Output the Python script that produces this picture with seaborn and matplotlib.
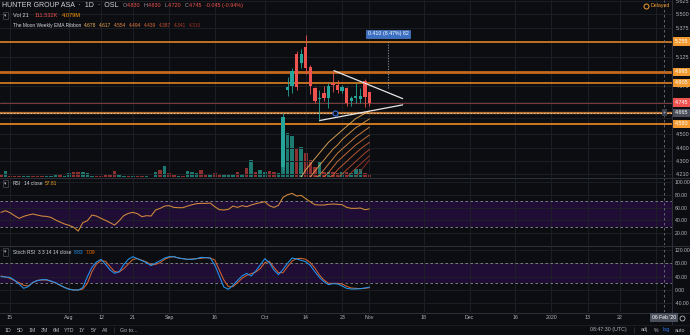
import numpy as np
import pandas as pd
import matplotlib
matplotlib.use("Agg")
import matplotlib.pyplot as plt
import seaborn as sns
from matplotlib.lines import Line2D
from matplotlib.transforms import blended_transform_factory as blend
from matplotlib.ticker import FixedLocator, NullLocator, FixedFormatter, NullFormatter

# ---------------------------------------------------------------- data
first_bar = -2          # bar index of first value (bar 0 = 15 Jul 2019, trading days)
candle_first_bar = 60   # 7 Oct 2019

rsi_values = [52.4, 55.0, 51.9, 47.2, 43.0, 46.1, 48.2, 49.8, 48.2, 46.6,
              46.1, 44.5, 40.4, 37.2, 34.1, 32.0, 28.9, 23.1, 36.2, 39.3,
              48.2, 46.6, 43.0, 39.8, 36.2, 32.5, 39.3, 47.2, 50.8, 52.4,
              50.3, 45.6, 47.2, 46.6, 56.1, 58.7, 62.3, 62.9, 60.2, 59.7,
              59.7, 62.3, 64.4, 66.0, 66.5, 66.5, 67.0, 61.3, 56.6, 56.1,
              57.1, 62.3, 60.2, 62.9, 61.3, 63.9, 66.0, 67.6, 69.1, 62.9,
              60.2, 63.4, 75.9, 80.1, 82.2, 78.0, 79.1, 73.8, 69.1, 64.4,
              63.9, 63.9, 65.0, 65.5, 65.0, 64.4, 60.2, 58.7, 58.7, 59.2,
              56.6, 57.81]

stoch_k = [40, 39, 38, 29, 18, 5, 10, 23, 28, 31,
           31, 27, 22, 15, 7, 2, 0, 0, 7, 40,
           68, 84, 92, 77, 60, 50, 55, 76, 92, 100,
           94, 88, 82, 73, 81, 88, 96, 100, 100, 96,
           94, 92, 92, 94, 98, 97, 96, 75, 42, 9,
           2, 14, 29, 42, 50, 42, 57, 75, 94, 82,
           60, 46, 62, 80, 96, 93, 89, 85, 74, 55,
           38, 25, 16, 19, 18, 12, 5, 3, 3, 4,
           6, 8.83]

stoch_d = [42, 39, 35, 28, 22, 14, 12, 22, 29, 30,
           30, 26, 21, 14, 8, 3, 0, 0, 3, 20,
           55, 78, 88, 86, 70, 55, 54, 64, 78, 92,
           94, 89, 84, 76, 77, 82, 92, 98, 100, 96,
           94, 92, 93, 94, 95, 97, 96, 90, 60, 30,
           10, 10, 22, 35, 44, 49, 54, 64, 82, 86,
           68, 52, 52, 70, 87, 94, 95, 92, 82, 66,
           45, 30, 20, 20, 20, 18, 11, 6, 5, 4,
           5, 7.09]

volume_k = [210, 390, 70, 80, 50, 60, 60, 70, 80, 80,
            40, 60, 150, 210, 60, 260, 300, 300, 340, 230,
            90, 40, 60, 210, 130, 390, 110, 90, 70, 40,
            70, 80, 40, 30, 340, 430, 700, 260, 110, 40,
            80, 370, 330, 240, 430, 120, 120, 260, 190, 120,
            110, 170, 340, 170, 600, 1100, 300, 480, 300, 390,
            340, 260, 3850, 2900, 2700, 1900, 1950, 1560, 1100, 650,
            980, 330, 330, 330, 260, 330, 330, 260, 490, 490,
            260, 112]

# direction of the bars before the visible candles (1 = up, 0 = down)
pre_volume_up = [0, 1, 0, 0, 0, 1, 1, 0, 0, 0,
                 1, 1, 1, 0, 1, 1, 0, 0, 1, 1,
                 1, 0, 0, 0, 0, 0, 1, 1, 0, 1,
                 0, 0, 1, 1, 1, 0, 1, 0, 0, 1,
                 0, 1, 1, 1, 0, 0, 1, 0, 0, 1,
                 1, 1, 0, 1, 0, 1, 0, 1, 1, 0,
                 0, 1]

candle_open = [4.26, 4.85, 4.88, 5.15, 5.07, 5.21, 5.04, 4.86, 4.77, 4.82,
               4.78, 4.90, 4.89, 4.84, 4.86, 4.76, 4.78, 4.77, 4.92, 4.83]
candle_high = [4.66, 4.95, 5.03, 5.17, 5.19, 5.31, 5.05, 4.87, 4.85, 4.88,
               4.90, 5.00, 4.93, 4.89, 4.87, 4.80, 4.90, 4.86, 4.94, 4.83]
candle_low = [4.24, 4.80, 4.82, 4.85, 5.03, 4.98, 4.81, 4.74, 4.60, 4.76,
              4.70, 4.83, 4.82, 4.82, 4.72, 4.72, 4.74, 4.74, 4.71, 4.72]
candle_close = [4.63, 4.87, 5.00, 4.87, 5.15, 5.03, 4.88, 4.76, 4.785, 4.78,
                4.88, 4.89, 4.85, 4.87, 4.74, 4.78, 4.80, 4.80, 4.79, 4.745]

# "The Moon Weekly EMA Ribbon" (bars 60..79)
ema_1 = [4.10, 4.12, 4.15, 4.17, 4.19, 4.24, 4.28, 4.32, 4.36, 4.40,
         4.44, 4.47, 4.50, 4.53, 4.56, 4.59, 4.62, 4.64, 4.66, 4.678]
ema_2 = [4.08, 4.10, 4.12, 4.14, 4.16, 4.175, 4.19, 4.23, 4.27, 4.31,
         4.35, 4.39, 4.42, 4.46, 4.49, 4.52, 4.55, 4.57, 4.595, 4.617]
ema_3 = [4.06, 4.08, 4.10, 4.12, 4.14, 4.155, 4.17, 4.185, 4.20, 4.24,
         4.28, 4.32, 4.36, 4.39, 4.42, 4.45, 4.48, 4.505, 4.53, 4.554]
ema_4 = [4.04, 4.06, 4.08, 4.10, 4.12, 4.13, 4.145, 4.16, 4.175, 4.19,
         4.22, 4.26, 4.30, 4.33, 4.36, 4.39, 4.42, 4.445, 4.47, 4.494]
ema_5 = [4.02, 4.04, 4.06, 4.08, 4.095, 4.11, 4.125, 4.14, 4.155, 4.17,
         4.185, 4.20, 4.24, 4.27, 4.30, 4.33, 4.36, 4.39, 4.415, 4.439]
ema_6 = [4.00, 4.02, 4.04, 4.055, 4.07, 4.085, 4.10, 4.115, 4.13, 4.145,
         4.16, 4.175, 4.185, 4.21, 4.24, 4.27, 4.30, 4.33, 4.36, 4.387]
ema_7 = [3.98, 4.00, 4.02, 4.035, 4.05, 4.065, 4.08, 4.095, 4.11, 4.125,
         4.14, 4.15, 4.165, 4.175, 4.185, 4.22, 4.25, 4.28, 4.31, 4.341]
ema_8 = [3.96, 3.98, 4.00, 4.015, 4.03, 4.045, 4.06, 4.075, 4.09, 4.10,
         4.115, 4.13, 4.14, 4.155, 4.165, 4.175, 4.19, 4.23, 4.27, 4.310]
ribbon_colors = ['#f2b55c', '#eea24f', '#e88d47', '#e0783f',
                 '#d46338', '#c44f32', '#b03d2c', '#9a2f27']

# drawn levels / tools
level_prices = [5.255, 4.995, 4.905, 4.580]
level_labels = ['5.255', '4.995', '4.905', '4.580']
last_price = 4.745
alert_price = 4.665
tri_upper_bar = [71.2, 86.3]
tri_upper_price = [5.006, 4.777]
tri_lower_bar = [68.1, 86.3]
tri_lower_price = [4.605, 4.727]
measure_bar = 83.1
measure_prices = [4.86, 5.27]
measure_text = "0.410 (8.47%) 82"
alert_bar = 71.4
cursor_bar = 143.7

# axis ticks / labels (labels hidden behind price tags are left blank)
price_ticks = [5.625, 5.5, 5.375, 5.25, 5.125, 5.0, 4.875, 4.75, 4.625, 4.5, 4.4, 4.3, 4.21]
price_tick_labels = ['5.625', '5.500', '5.375', '', '5.125', '', '4.875', '', '',
                     '4.500', '4.400', '4.300', '4.210']
rsi_ticks = [100, 80, 60, 40, 20]
stoch_ticks = [120, 80, 40, 0, -40]
time_labels = ['15', 'Aug', '12', '21', 'Sep', '16', 'Oct', '14', '23', 'Nov',
               '18', 'Dec', '16', '2020', '13', '22', '']
time_label_bars = [0, 13, 20, 27, 35, 45, 56, 65, 73, 79, 91, 101, 111, 119, 127, 134, 142]

# ---------------------------------------------------------------- style
BG = '#0c0d10'
GRID = '#1d1f26'
SEP = '#2c2f38'
TXT = '#b2b5be'
WHITE = '#d1d4dc'
UP = '#26a69a'
DN = '#ef5350'
ORANGE = '#f08a24'

sns.set_theme(style='dark', rc={'axes.facecolor': BG, 'figure.facecolor': BG,
                                'grid.color': GRID, 'axes.edgecolor': SEP,
                                'text.color': WHITE, 'xtick.color': TXT, 'ytick.color': TXT})
plt.rcParams['font.family'] = ['Liberation Sans', 'DejaVu Sans']

W, H = 690, 335
fig = plt.figure(figsize=(W / 100, H / 100), dpi=100)
fig.patch.set_facecolor(BG)
RIGHT = 672


def rect(top, bottom):
    return [0, 1 - bottom / H, RIGHT / W, (bottom - top) / H]


ax_vol = fig.add_axes(rect(0, 177))
ax = fig.add_axes(rect(0, 177))
ax.set_facecolor('none')
ax_rsi = fig.add_axes(rect(178, 245))
ax_st = fig.add_axes(rect(246, 312))

XMIN, XMAX = -2.2, 145.5
for a in (ax_vol, ax, ax_rsi, ax_st):
    for s in a.spines.values():
        s.set_visible(False)
    a.tick_params(length=0)
ax_vol.set_xticks([])
ax_vol.set_yticks([])

# ---------------------------------------------------------------- volume
vol_bars = np.arange(first_bar, first_bar + len(volume_k))
up_flags = pre_volume_up + [int(c >= o) for o, c in zip(candle_open, candle_close)]
vol_df = pd.DataFrame({'bar': vol_bars, 'vol': volume_k, 'up': up_flags})
vol_colors = ['#1c7a71' if u else '#8e2f30' for u in vol_df['up']]
ax_vol.bar(vol_df['bar'], vol_df['vol'], width=0.78, color=vol_colors, linewidth=0)
ax_vol.set_xlim(XMIN, XMAX)
ax_vol.set_ylim(0, max(volume_k) * 177 / 59)

# ---------------------------------------------------------------- price pane
ax.set_yscale('log')
for a in (ax, ax_rsi, ax_st):
    a.xaxis.set_major_locator(FixedLocator(time_label_bars))
    a.grid(True, axis='x', color=GRID, lw=0.7)

ribbon_bars = np.arange(candle_first_bar, candle_first_bar + len(ema_1))
for vals, col in zip([ema_1, ema_2, ema_3, ema_4, ema_5, ema_6, ema_7, ema_8], ribbon_colors):
    sns.lineplot(x=ribbon_bars, y=vals, ax=ax, color=col, linewidth=0.7, alpha=0.85,
                 legend=False, zorder=3)

# horizontal levels
ax.axhline(level_prices[0], color=ORANGE, lw=1.1, zorder=2)
ax.axhline(level_prices[1], color='#c4681d', lw=2.0, zorder=2)
ax.axhline(level_prices[2], color=ORANGE, lw=1.1, zorder=2)
ax.axhline(level_prices[3], color=ORANGE, lw=1.2, zorder=2)
ax.axhline(last_price, color='#7d3b3b', lw=0.7, zorder=2)
ax.axhline(alert_price, color='#b8702e', lw=1.6, zorder=2)
ax.axhline(alert_price, color='#e6cfae', lw=0.6, ls=(0, (2, 2)), zorder=2)

# candles
cb = np.arange(candle_first_bar, candle_first_bar + len(candle_open))
o = np.array(candle_open); c = np.array(candle_close)
ccols = [UP if cc >= oo else DN for oo, cc in zip(o, c)]
ax.vlines(cb, candle_low, candle_high, colors=ccols, lw=0.6, zorder=5)
lo = np.minimum(o, c)
hi = np.maximum(np.maximum(o, c), lo * 1.0015)
ax.bar(cb, hi - lo, bottom=lo, width=0.74, color=ccols, linewidth=0, zorder=6)

# triangle + tools
ax.plot(tri_upper_bar, tri_upper_price, color='#e6e6e6', lw=0.9, zorder=7)
ax.plot(tri_lower_bar, tri_lower_price, color='#e6e6e6', lw=0.9, zorder=7)
ax.plot([alert_bar], [alert_price], marker='o', ms=3.6, mfc=BG, mec='#2f6fe0', mew=0.8, zorder=8)
ax.vlines(measure_bar, measure_prices[0], measure_prices[1], colors='#8e939e',
          linestyles=(0, (1, 1.4)), lw=0.8, zorder=7)
ax.text(measure_bar, 5.325, measure_text, ha='center', va='center', fontsize=3.8, color='white',
        bbox=dict(boxstyle='square,pad=0.3', fc='#3b6fc2', ec='#5a8ee0', lw=0.4), zorder=9)

ax.set_xlim(XMIN, XMAX)
ax.set_ylim(4.189, 5.635)
ax.yaxis.set_major_locator(FixedLocator(price_ticks))
ax.yaxis.set_major_formatter(FixedFormatter(price_tick_labels))
ax.yaxis.set_minor_locator(NullLocator())
ax.yaxis.set_minor_formatter(NullFormatter())
ax.grid(True, axis='y', which='major', color=GRID, lw=0.7)
ax.yaxis.tick_right()
ax.tick_params(axis='y', labelright=True, labelleft=False, pad=3, labelsize=3.9, labelcolor=TXT)
ax.tick_params(axis='x', labelbottom=False)
ax.set_xlabel(''); ax.set_ylabel('')


def price_tag(a, y, txt, fc, tc='white'):
    a.text(1.004, y, txt, transform=blend(a.transAxes, a.transData), ha='left', va='center',
           fontsize=3.9, color=tc, clip_on=False, zorder=12,
           bbox=dict(boxstyle='square,pad=0.32', fc=fc, ec='none'))


for p, lab in zip(level_prices, level_labels):
    price_tag(ax, p, lab, '#f39a30')
price_tag(ax, last_price, '%.3f' % last_price, DN)
price_tag(ax, alert_price, '%.3f' % alert_price, '#4a4e5a')
ax.text(0.9885, alert_price, '+', transform=blend(ax.transAxes, ax.transData), ha='center',
        va='center', fontsize=4, color=WHITE, zorder=12,
        bbox=dict(boxstyle='square,pad=0.15', fc='#3a3e48', ec='none'))

# ---------------------------------------------------------------- RSI pane
bars = np.arange(first_bar, first_bar + len(rsi_values))
ax_rsi.axhspan(30, 70, color='#1f0d35', zorder=0, lw=0)
ax_rsi.axhline(70, color='#8a8d96', lw=0.6, ls=(0, (3, 3)))
ax_rsi.axhline(30, color='#8a8d96', lw=0.6, ls=(0, (3, 3)))
sns.lineplot(x=bars, y=rsi_values, ax=ax_rsi, color='#d58c3c', linewidth=0.75, legend=False)
ax_rsi.set_xlim(XMIN, XMAX)
ax_rsi.set_ylim(1.2, 106.3)
ax_rsi.yaxis.set_major_locator(FixedLocator(rsi_ticks))
ax_rsi.yaxis.set_major_formatter(FixedFormatter(['%.2f' % v for v in rsi_ticks]))
ax_rsi.grid(True, axis='y', color=GRID, lw=0.7)
ax_rsi.yaxis.tick_right()
ax_rsi.tick_params(axis='y', labelright=True, labelleft=False, pad=2, labelsize=3.7, labelcolor=TXT)
ax_rsi.tick_params(axis='x', labelbottom=False)
ax_rsi.set_xlabel(''); ax_rsi.set_ylabel('')

# ---------------------------------------------------------------- Stoch RSI pane
ax_st.axhspan(20, 80, color='#1f0d35', zorder=0, lw=0)
ax_st.axhline(80, color='#8a8d96', lw=0.6, ls=(0, (3, 3)))
ax_st.axhline(20, color='#8a8d96', lw=0.6, ls=(0, (3, 3)))
sns.lineplot(x=bars, y=stoch_d, ax=ax_st, color='#d2622e', linewidth=0.75, legend=False)
sns.lineplot(x=bars, y=stoch_k, ax=ax_st, color='#2196f3', linewidth=0.75, legend=False)
ax_st.set_xlim(XMIN, XMAX)
ax_st.set_ylim(-66, 132)
ax_st.yaxis.set_major_locator(FixedLocator(stoch_ticks))
ax_st.yaxis.set_major_formatter(FixedFormatter(['%.2f' % v for v in stoch_ticks]))
ax_st.grid(True, axis='y', color=GRID, lw=0.7)
ax_st.yaxis.tick_right()
ax_st.tick_params(axis='y', labelright=True, labelleft=False, pad=2, labelsize=3.7, labelcolor=TXT)
ax_st.xaxis.set_major_formatter(FixedFormatter(time_labels))
ax_st.tick_params(axis='x', labelbottom=True, pad=2.2, labelsize=3.8, labelcolor=TXT)
ax_st.set_xlabel(''); ax_st.set_ylabel('')

# crosshair
for a in (ax, ax_rsi, ax_st):
    a.axvline(cursor_bar, color='#6c707b', lw=0.6, ls=(0, (3, 3)), zorder=4)

# ---------------------------------------------------------------- separators
def hline_px(y, x0=0, x1=W, col=SEP, lw=0.8):
    fig.add_artist(Line2D([x0 / W, x1 / W], [1 - y / H, 1 - y / H], color=col, lw=lw,
                          transform=fig.transFigure))


hline_px(177.5)
hline_px(245.5)
hline_px(312.5)
hline_px(324.5, col='#1a1c22')
fig.add_artist(Line2D([RIGHT / W, RIGHT / W], [1 - 324 / H, 1], color=SEP, lw=0.8,
                      transform=fig.transFigure))

# ---------------------------------------------------------------- texts
renderer = fig.canvas.get_renderer()


def run_text(x_px, y_px, parts, size):
    for txt, col, gap in parts:
        t = fig.text(x_px / W, 1 - y_px / H, txt, color=col, fontsize=size, ha='left', va='center')
        x_px += t.get_window_extent(renderer=renderer).width + gap
    return x_px


def collapse_icon(x_px, y_px):
    fig.text(x_px / W, 1 - y_px / H, '\u25be', color=TXT, fontsize=3.5, ha='center', va='center',
             family=['DejaVu Sans'],
             bbox=dict(boxstyle='square,pad=0.25', fc=BG, ec='#4a4d57', lw=0.5))


GRAY = '#9598a1'
x1 = run_text(2, 5.5, [('HUNTER GROUP ASA  \u00b7  1D  \u00b7  OSL', WHITE, 4)], 5.0)
run_text(x1, 5.5, [('O', GRAY, 0.3), ('4.830', DN, 3),
                   ('H', GRAY, 0.3), ('4.830', DN, 3),
                   ('L', GRAY, 0.3), ('4.720', DN, 3),
                   ('C', GRAY, 0.3), ('4.745', DN, 3),
                   ('-0.045 (-0.94%)', DN, 0)], 3.9)
collapse_icon(5.5, 15.5)
run_text(13, 15.5, [('Vol 21', WHITE, 6), ('111.532K', DN, 4), ('4.079M', '#ff9800', 0)], 4.1)
run_text(13, 25.5, [('The Moon Weekly EMA Ribbon', WHITE, 3)] +
         [('%.3f' % v[-1], col, 2.6) for v, col in
          zip([ema_1, ema_2, ema_3, ema_4, ema_5, ema_6, ema_7, ema_8], ribbon_colors)], 3.5)

collapse_icon(5.5, 183.5)
run_text(13, 183.5, [('RSI', WHITE, 2.5), ('14 close', WHITE, 3), ('%.2f' % rsi_values[-1], '#f5a623', 0)], 3.5)
collapse_icon(5.5, 252)
run_text(13, 252, [('Stoch RSI', WHITE, 2.5), ('3 3 14 14 close', WHITE, 3),
                   ('%.2f' % stoch_k[-1], '#2196f3', 2.5), ('%.2f' % stoch_d[-1], '#ff6d00', 0)], 3.5)

# delayed badge
fig.add_artist(Line2D([646 / W], [1 - 6 / H], marker='o', ms=3.6, mfc='none', mec='#f59d32',
                      mew=0.7, transform=fig.transFigure))
fig.text(650.5 / W, 1 - 6 / H, 'Delayed', color='#f59d32', fontsize=3.8, ha='left', va='center')

# time axis cursor box
fig.text(664 / W, 1 - 317.5 / H, "06 Feb '20", ha='center', va='center', fontsize=3.7, color='white',
         bbox=dict(boxstyle='square,pad=0.35', fc='#4a4f5c', ec='none'), zorder=20)
fig.add_artist(Line2D([682 / W], [1 - 317.5 / H], marker='o', ms=3.6, mfc='none', mec=TXT,
                      mew=0.6, transform=fig.transFigure))

# bottom toolbar
for lab, xc in zip(['1D', '5D', '1M', '3M', '6M', 'YTD', '1Y', '5Y', 'All'],
                   [8, 20, 32, 44, 56, 69, 82, 94, 105]):
    fig.text(xc / W, 1 - 330 / H, lab, color=TXT, fontsize=3.8, ha='center', va='center')
fig.add_artist(Line2D([114 / W, 114 / W], [1 - 327 / H, 1 - 333 / H], color=SEP, lw=0.6,
                      transform=fig.transFigure))
fig.text(120 / W, 1 - 330 / H, 'Go to...', color=TXT, fontsize=3.8, ha='left', va='center')
fig.text(627 / W, 1 - 330 / H, '08:47:30 (UTC)', color=TXT, fontsize=3.8, ha='right', va='center')
fig.add_artist(Line2D([634 / W, 634 / W], [1 - 327 / H, 1 - 333 / H], color=SEP, lw=0.6,
                      transform=fig.transFigure))
for lab, xc, col in [('adj', 644, TXT), ('%', 656, TXT), ('log', 666, '#2f7bf5'), ('auto', 680, TXT)]:
    fig.text(xc / W, 1 - 330 / H, lab, color=col, fontsize=3.8, ha='center', va='center')

fig.savefig('out.png', dpi=100, facecolor=BG)
